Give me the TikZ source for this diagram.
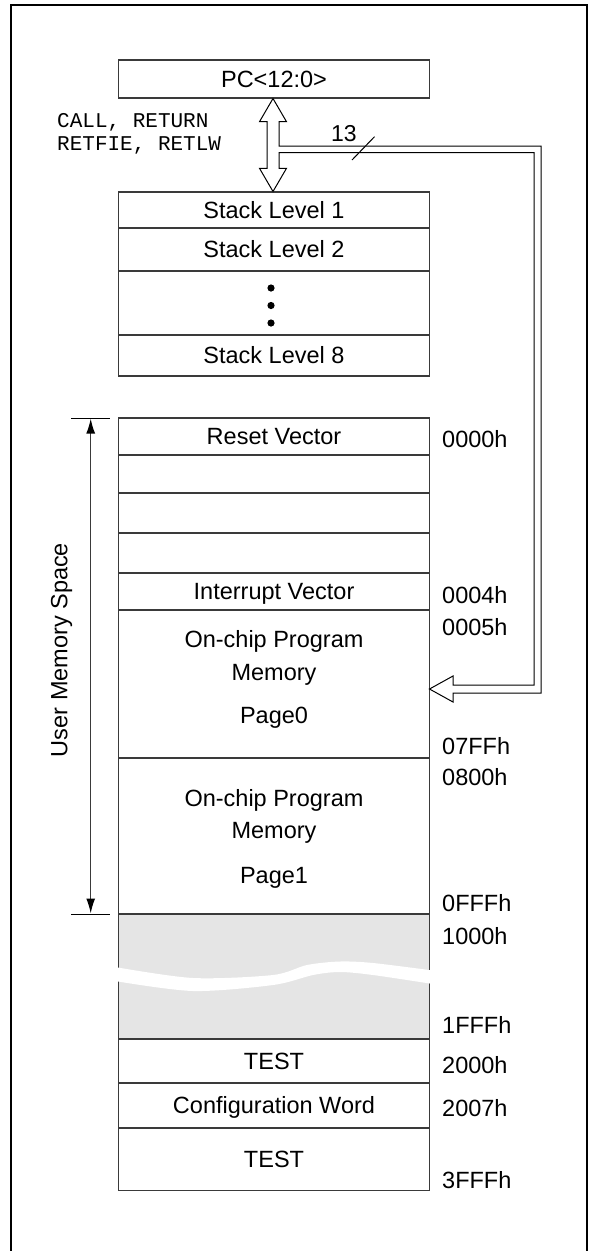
\documentclass[tikz,border=0pt]{standalone}
\usepackage{fontspec}
\setmainfont{Liberation Sans}
\newfontfamily\monofont{Liberation Mono}
\usetikzlibrary{arrows.meta}
\definecolor{linegray}{HTML}{3A3A3A}
\definecolor{memgray}{HTML}{E5E5E5}
\begin{document}
\begin{tikzpicture}[x=1pt,y=-1pt,
  box/.style={draw=linegray, line width=1.2pt, minimum width=311pt, inner sep=0pt, outer sep=0pt,
    font=\fontsize{23.5}{28}\selectfont, text height=16.8pt, text depth=0pt},
  txt/.style={font=\fontsize{23.5}{28}\selectfont, inner sep=0pt, text height=16.8pt, text depth=0pt},
  addr/.style={txt, anchor=west},
  mono/.style={font=\monofont\fontsize{21}{25}\selectfont, inner sep=0pt, text height=12pt, text depth=0pt, anchor=west},
  hollow/.style={draw=black, line width=1pt, fill=white, line join=miter},
  tick/.style={draw=black, line width=1pt},
  span/.style={draw=linegray, line width=1.5pt, {Latex[length=15pt,width=9pt,black]}-{Latex[length=15pt,width=9pt,black]}}
]
\useasboundingbox (0,0) rectangle (589,1251);
% outer frame
\draw[line width=2.5pt] (11,1262) -- (11,5) -- (587,5) -- (587,1262);

% PC and stack
\node[box, minimum height=38pt] (pc) at (274,79) {PC<12:0>};
\node[box, minimum height=36pt] (s1) at (274,210) {Stack Level 1};
\node[box, minimum height=43pt] (s2) at (274,249.5) {Stack Level 2};
\node[box, minimum height=64pt] (sd) at (274,303) {};
\node[box, minimum height=41pt] (s8) at (274,355.5) {Stack Level 8};
\fill (271,288) circle[radius=3.6pt];
\fill (271,305.5) circle[radius=3.6pt];
\fill (271,323) circle[radius=3.6pt];

% memory map
\node[box, minimum height=37pt] (r0) at (274,436.5) {Reset Vector};
\node[box, minimum height=38pt] (r1) at (274,474) {};
\node[box, minimum height=40pt] (r2) at (274,513) {};
\node[box, minimum height=40pt] (r3) at (274,553) {};
\node[box, minimum height=37pt] (r4) at (274,591.5) {Interrupt Vector};
\node[box, minimum height=148pt] (p0) at (274,684) {};
\node[box, minimum height=156pt] (p1) at (274,836) {};
\node[box, minimum height=125pt, fill=memgray] (gr) at (274,976.5) {};
\node[box, minimum height=44pt] (t1) at (274,1061) {TEST};
\node[box, minimum height=45pt] (cw) at (274,1105.5) {Configuration Word};
\node[box, minimum height=63pt] (t2) at (274,1159) {TEST};

\node[txt] (p0a) at (274,639.5) {On-chip Program};
\node[txt] (p0b) at (274,672) {Memory};
\node[txt] (p0c) at (274,715) {Page0};
\node[txt] (p1a) at (274,798.5) {On-chip Program};
\node[txt] (p1b) at (274,830) {Memory};
\node[txt] (p1c) at (274,875) {Page1};

% break band in the unimplemented region
\fill[white] plot[smooth] coordinates {(115,967) (193,978) (273,975) (307,965) (340,961.5) (373,963) (433,970.5)}
  -- plot[smooth] coordinates {(433,984) (373,975) (340,972) (313,975) (273,985) (193,991) (115,981)} -- cycle;

% addresses
\node[addr] (a0000) at (442,439) {0000h};
\node[addr] (a0004) at (442,595) {0004h};
\node[addr] (a0005) at (442,627) {0005h};
\node[addr] (a07FF) at (442,746) {07FFh};
\node[addr] (a0800) at (442,777) {0800h};
\node[addr] (a0FFF) at (442,903) {0FFFh};
\node[addr] (a1000) at (442,936) {1000h};
\node[addr] (a1FFF) at (442,1025) {1FFFh};
\node[addr] (a2000) at (442,1065) {2000h};
\node[addr] (a2007) at (442,1108) {2007h};
\node[addr] (a3FFF) at (442,1180) {3FFFh};

% user memory space span
\coordinate (tkTopL) at (71,418);
\coordinate (tkTopR) at (110,418);
\coordinate (tkBotL) at (71,914);
\coordinate (tkBotR) at (110,914);
\coordinate (umTop) at (90.7,418.5);
\coordinate (umBot) at (90.7,913.5);
\draw[tick] (tkTopL) -- (tkTopR);
\draw[tick] (tkBotL) -- (tkBotR);
\draw[span] (umBot) -- (umTop);
\node[txt, rotate=90] (ums) at (59,650) {User Memory Space};

% stack push/pop double arrow and 13-bit bus back to program memory
\draw[hollow] (273,98.5) -- (286.5,121.7) -- (279,121.7) -- (279,146)
  -- (541,146) -- (541,693) -- (453,693) -- (453,702) -- (429.5,689) -- (453,676) -- (453,685)
  -- (534,685) -- (534,152.7) -- (279,152.7) -- (279,168.3) -- (286.5,168.3) -- (273,191.5)
  -- (259.5,168.3) -- (267,168.3) -- (267,121.7) -- (259.5,121.7) -- cycle;
\coordinate (slA) at (352,160);
\coordinate (slB) at (374.5,136.7);
\draw[line width=1pt] (slA) -- (slB);
\node[txt, font=\fontsize{23}{27}\selectfont, text height=16.4pt] (bw) at (344,133) {13};

\node[mono] (ops1) at (57,121.7) {CALL, RETURN};
\node[mono] (ops2) at (57,144) {RETFIE, RETLW};
\end{tikzpicture}
\end{document}
